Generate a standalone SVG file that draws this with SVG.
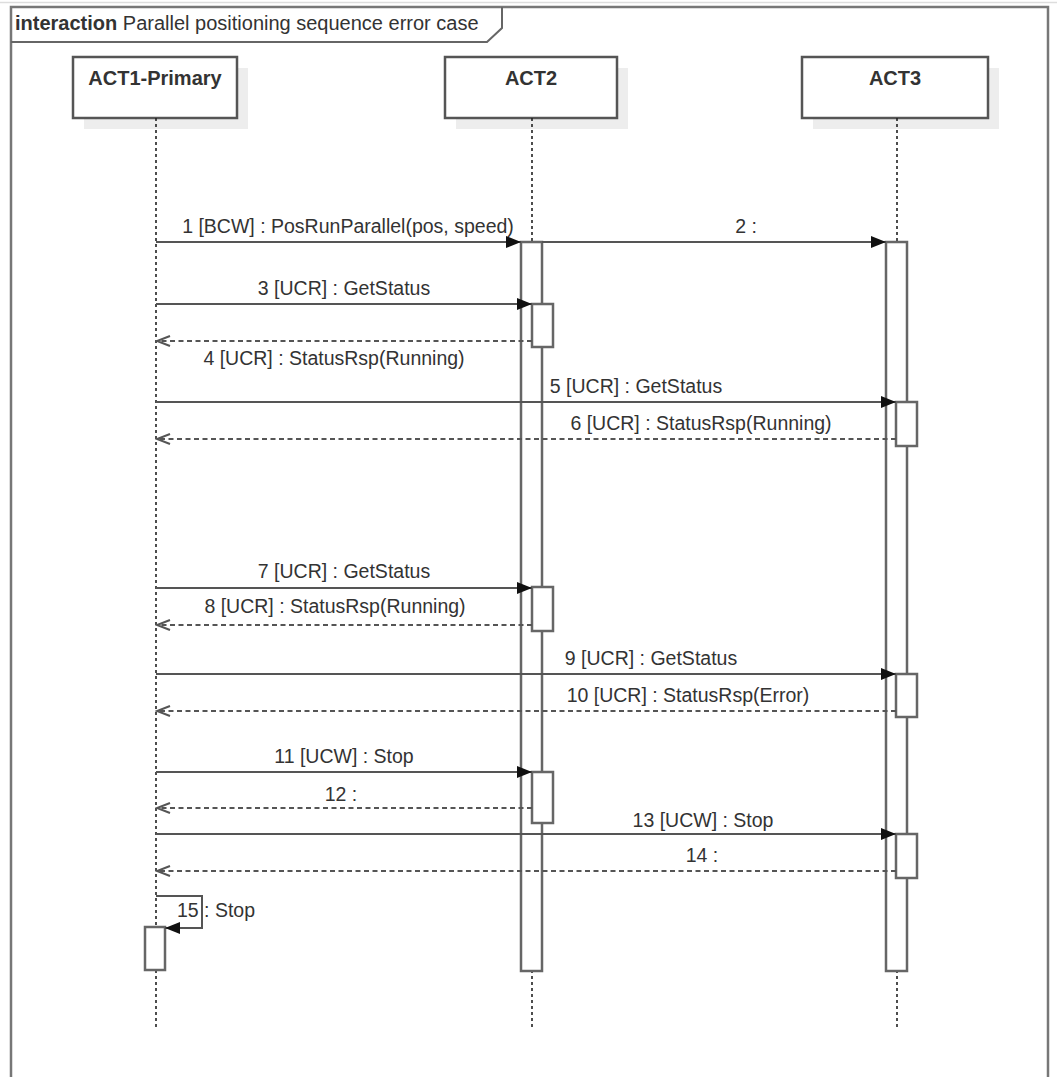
<svg xmlns="http://www.w3.org/2000/svg" width="1057" height="1077" viewBox="0 0 1057 1077">
  <style>
    text { font-family: "Liberation Sans", Arial, sans-serif; fill: #333; }
    .title { font-size: 20px; }
    .head { font-size: 20px; font-weight: bold; text-anchor: middle; }
    .lbl { font-size: 19.5px; text-anchor: middle; }
    .box { fill: #fff; stroke: #555; stroke-width: 2.5; }
    .shadow { fill: #ededed; stroke: none; }
    .life { stroke: #222; stroke-width: 1.6; stroke-dasharray: 3 3; fill: none; }
    .bar { fill: #fff; stroke: #666; stroke-width: 2.5; }
    .msg { stroke: #555; stroke-width: 2; fill: none; marker-end: url(#filled); }
    .ret { stroke: #555; stroke-width: 2; fill: none; stroke-dasharray: 5 3.5; marker-end: url(#open); }
  </style>
  <defs>
    <marker id="filled" markerUnits="userSpaceOnUse" markerWidth="16" markerHeight="13" refX="15" refY="6" orient="auto">
      <path d="M0,0 L15,6 L0,12 z" fill="#111"/>
    </marker>
    <marker id="open" markerUnits="userSpaceOnUse" markerWidth="16" markerHeight="14" refX="14" refY="6" orient="auto">
      <path d="M1,1 L14,6 L1,11" fill="none" stroke="#555" stroke-width="2"/>
    </marker>
  </defs>

  <rect width="1057" height="1077" fill="#fff"/>
  <line x1="0" y1="2.5" x2="1057" y2="2.5" stroke="#ddd" stroke-width="1.5"/>

  <g id="frame">
    <rect x="11" y="7" width="1037" height="1090" fill="none" stroke="#777" stroke-width="2.5"/>
    <path d="M11,42 H487 L502,28 V7" fill="none" stroke="#666" stroke-width="2"/>
    <text class="title" x="15" y="30"><tspan font-weight="bold">interaction</tspan> Parallel positioning sequence error case</text>
  </g>

  <g id="act1">
    <rect class="shadow" x="84" y="68" width="164" height="61"/>
    <rect class="box" x="73" y="57" width="164" height="61"/>
    <text class="head" x="155" y="85">ACT1-Primary</text>
    <line class="life" x1="156" y1="118" x2="156" y2="1030"/>
    <rect class="bar" x="145" y="927" width="20" height="43"/>
  </g>

  <g id="act2">
    <rect class="shadow" x="456" y="68" width="172" height="61"/>
    <rect class="box" x="445" y="57" width="172" height="61"/>
    <text class="head" x="531" y="85">ACT2</text>
    <line class="life" x1="532" y1="118" x2="532" y2="1030"/>
    <rect class="bar" x="521" y="242" width="21" height="729"/>
    <rect class="bar" x="532" y="304" width="21" height="43"/>
    <rect class="bar" x="532" y="587" width="21" height="44"/>
    <rect class="bar" x="532" y="772" width="21" height="51"/>
  </g>

  <g id="act3">
    <rect class="shadow" x="813" y="68" width="186" height="61"/>
    <rect class="box" x="802" y="57" width="186" height="61"/>
    <text class="head" x="895" y="85">ACT3</text>
    <line class="life" x1="897" y1="118" x2="897" y2="1030"/>
    <rect class="bar" x="886" y="242" width="21" height="729"/>
    <rect class="bar" x="896" y="402" width="21" height="44"/>
    <rect class="bar" x="896" y="674" width="21" height="43"/>
    <rect class="bar" x="896" y="834" width="21" height="44"/>
  </g>

  <g id="connectors">
    <line class="msg" x1="156" y1="242" x2="521" y2="242"/>
    <text class="lbl" x="348" y="233">1 [BCW] : PosRunParallel(pos, speed)</text>

    <line class="msg" x1="542" y1="242" x2="886" y2="242"/>
    <text class="lbl" x="746" y="233">2 :</text>

    <line class="msg" x1="156" y1="304" x2="532" y2="304"/>
    <text class="lbl" x="344" y="295">3 [UCR] : GetStatus</text>

    <line class="ret" x1="532" y1="341" x2="157" y2="341"/>
    <text class="lbl" x="334" y="365">4 [UCR] : StatusRsp(Running)</text>

    <line class="msg" x1="156" y1="402" x2="896" y2="402"/>
    <text class="lbl" x="636" y="393">5 [UCR] : GetStatus</text>

    <line class="ret" x1="896" y1="439" x2="157" y2="439"/>
    <text class="lbl" x="701" y="430">6 [UCR] : StatusRsp(Running)</text>

    <line class="msg" x1="156" y1="588" x2="532" y2="588"/>
    <text class="lbl" x="344" y="578">7 [UCR] : GetStatus</text>

    <line class="ret" x1="532" y1="625" x2="157" y2="625"/>
    <text class="lbl" x="335" y="613">8 [UCR] : StatusRsp(Running)</text>

    <line class="msg" x1="156" y1="674" x2="896" y2="674"/>
    <text class="lbl" x="651" y="665">9 [UCR] : GetStatus</text>

    <line class="ret" x1="896" y1="711" x2="157" y2="711"/>
    <text class="lbl" x="688" y="702">10 [UCR] : StatusRsp(Error)</text>

    <line class="msg" x1="156" y1="772" x2="532" y2="772"/>
    <text class="lbl" x="344" y="763">11 [UCW] : Stop</text>

    <line class="ret" x1="532" y1="808" x2="157" y2="808"/>
    <text class="lbl" x="341" y="801">12 :</text>

    <line class="msg" x1="156" y1="834" x2="896" y2="834"/>
    <text class="lbl" x="703" y="827">13 [UCW] : Stop</text>

    <line class="ret" x1="896" y1="871" x2="157" y2="871"/>
    <text class="lbl" x="702" y="862">14 :</text>

    <path class="msg" d="M156,896 H202 V928 H165"/>
    <text class="lbl" x="216" y="917">15 : Stop</text>
  </g>
</svg>
